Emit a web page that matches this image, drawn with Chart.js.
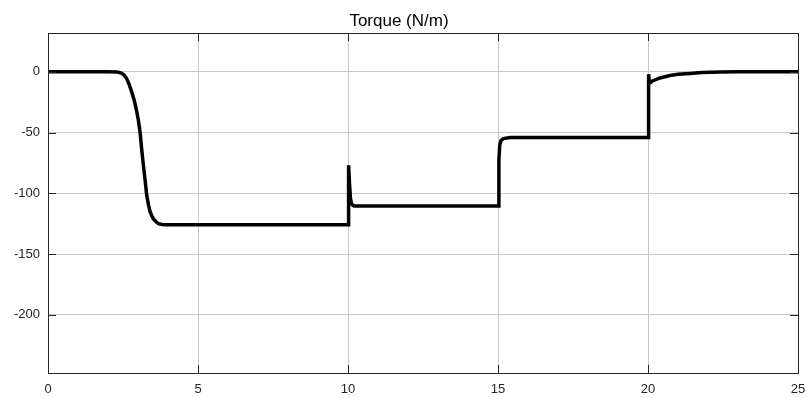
<!DOCTYPE html>
<html>
<head>
<meta charset="utf-8">
<script src="https://cdn.jsdelivr.net/npm/chart.js@4/dist/chart.umd.min.js"></script>
<style>
  html, body { margin: 0; padding: 0; background: #fff; }
  #wrap { width: 806px; height: 398px; }
</style>
</head>
<body>
<div id="wrap"><canvas id="torqueChart"></canvas></div>
<script>
// time (s) and torque samples
const times = [
  0, 1, 2, 2.3, 2.45, 2.54, 2.62, 2.7, 2.79, 2.88, 2.96, 3.02, 3.07, 3.12, 3.18, 3.24, 3.29,
  3.35, 3.4, 3.46, 3.51, 3.6, 3.68, 3.8, 3.96,
  6, 8, 9.99,
  10.0, 10.02, 10.05, 10.08, 10.12, 10.2, 12, 14.99,
  15.0, 15.03, 15.06, 15.1, 15.18, 15.4, 17, 19.99,
  20.0, 20.02, 20.05, 20.15, 20.4, 20.73, 21.0, 21.4, 21.8, 22.4, 23, 25
];
const torque = [
  0, 0, 0, -0.2, -1, -2.8, -5.5, -10, -16.5, -24, -33, -41, -50, -63, -77, -90, -101.5,
  -109.5, -115, -118.5, -121, -123.5, -125, -125.7, -126,
  -126, -126, -126,
  -126, -77, -92, -104, -109, -110.5, -110.5, -110.5,
  -110.5, -72, -60, -56.5, -55, -54, -54, -54,
  -54, -2, -9.5, -7.5, -5, -3, -2, -1.3, -0.6, -0.1, 0, 0
];
const xTicks = [0, 5, 10, 15, 20, 25];
const yTicks = [0, -50, -100, -150, -200];

const axisColor = "#262626";
const gridColor = "#c8c8c8";
const fontFamily = "Liberation Sans, Arial, sans-serif";

// MATLAB-style box with inward tick marks
const boxPlugin = {
  id: "box",
  afterDraw(chart) {
    const { ctx, chartArea: a, scales } = chart;
    ctx.save();
    ctx.strokeStyle = axisColor;
    ctx.lineWidth = 1;
    ctx.beginPath();
    xTicks.forEach((v) => {
      const px = Math.round(scales.x.getPixelForValue(v)) + 0.5;
      ctx.moveTo(px, a.bottom); ctx.lineTo(px, a.bottom - 8);
      ctx.moveTo(px, a.top); ctx.lineTo(px, a.top + 8);
    });
    yTicks.forEach((v) => {
      const py = Math.round(scales.y.getPixelForValue(v)) + 0.5;
      ctx.moveTo(a.left, py); ctx.lineTo(a.left + 8, py);
      ctx.moveTo(a.right, py); ctx.lineTo(a.right - 8, py);
    });
    ctx.stroke();
    ctx.strokeRect(Math.round(a.left) + 0.5, Math.round(a.top) + 0.5,
      Math.round(a.right - a.left), Math.round(a.bottom - a.top));
    ctx.restore();
  },
};

new Chart(document.getElementById("torqueChart"), {
  type: "line",
  data: {
    datasets: [
      {
        data: times.map((t, i) => ({ x: t, y: torque[i] })),
        borderColor: "#000",
        borderWidth: 3.5,
        pointRadius: 0,
        tension: 0,
        fill: false,
      },
    ],
  },
  options: {
    responsive: true,
    maintainAspectRatio: false,
    animation: false,
    layout: { padding: { left: 0, right: 8, top: 0, bottom: 0 } },
    plugins: {
      legend: { display: false },
      tooltip: { enabled: false },
      title: {
        display: true,
        text: "Torque (N/m)",
        color: "#000",
        font: { family: fontFamily, size: 17, weight: "normal" },
        padding: { top: 11, bottom: 1.6 },
      },
    },
    scales: {
      x: {
        type: "linear",
        min: 0,
        max: 25,
        afterBuildTicks: (s) => { s.ticks = xTicks.map((v) => ({ value: v })); },
        afterFit: (s) => { s.height = 25; s.paddingLeft = 0; s.paddingRight = 0; },
        grid: { color: gridColor, drawTicks: false },
        border: { display: false },
        ticks: {
          color: axisColor,
          padding: 9,
          maxRotation: 0,
          font: { family: fontFamily, size: 13 },
        },
      },
      y: {
        min: -248,
        max: 32,
        afterBuildTicks: (s) => { s.ticks = yTicks.map((v) => ({ value: v })); },
        afterFit: (s) => { s.width = 48; s.paddingTop = 0; s.paddingBottom = 0; },
        grid: { color: gridColor, drawTicks: false },
        border: { display: false },
        ticks: {
          color: axisColor,
          padding: 8,
          font: { family: fontFamily, size: 13 },
        },
      },
    },
  },
  plugins: [boxPlugin],
});
</script>
</body>
</html>
